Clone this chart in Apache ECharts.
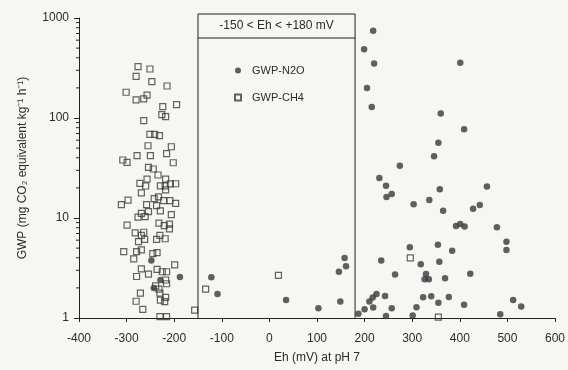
<!DOCTYPE html>
<html>
<head>
<meta charset="utf-8">
<script src="https://cdn.jsdelivr.net/npm/echarts@6/dist/echarts.min.js"></script>
<style>
  html, body { margin: 0; padding: 0; background: #f6f6f4; }
  #chart { width: 568px; height: 370px; }
</style>
</head>
<body>
<div id="chart"></div>
<script>
// ---- data (Eh in mV, GWP in mg CO2 equivalent kg-1 h-1) ----
const ch4Data = [
  [-276,326],[-251,309],[-280,261],[-247,231],[-215,209],[-301,181],[-257,169],[-280,152],[-264,155],[-195,136],
  [-224,130],[-226,108],[-218,103],[-264,94],[-251,68.7],[-241,68.7],[-231,66.5],[-255,52.8],[-206,51.6],[-278,42],
  [-250,42],[-216,44],[-308,38],[-299,36],[-202,35.7],[-254,32.1],[-244,30.9],[-234,26.9],[-257,24.5],[-218,24.5],
  [-272,22.2],[-260,20.9],[-229,21],[-219,21],[-208,21.9],[-197,22],[-218,19.1],[-269,17.8],[-311,13.6],[-297,15.1],
  [-242,15.6],[-233,16.3],[-222,14.9],[-209,14.9],[-197,14.0],[-258,13.6],[-237,13.3],[-229,11.8],[-254,11.6],[-269,11.1],
  [-276,10.2],[-261,10.3],[-206,10.8],[-232,8.9],[-221,8.4],[-210,8.7],[-210,7.8],[-299,8.5],[-282,7.1],[-264,7.2],
  [-269,6.7],[-230,6.7],[-237,6.1],[-219,6.2],[-275,5.8],[-262,6.1],[-306,4.6],[-279,4.6],[-269,4.8],[-245,4.4],
  [-236,4.5],[-285,3.9],[-199,3.4],[-269,3.1],[-236,3.07],[-225,2.9],[-216,2.9],[-279,2.6],[-254,2.75],[-218,2.4],
  [-216,2.2],[-239,2.1],[-232,1.94],[-271,1.77],[-230,1.77],[-218,1.61],[-229,1.51],[-220,1.46],[-280,1.47],[-266,1.22],
  [-230,1.03],[-216,1.03],[-157,1.2],[-134,1.94],[19,2.67],[296,4.0],[355,1.02]
];
const n2oData = [
  [-248,3.76],[-229,2.4],[-243,2.0],[-188,2.57],[-122,2.55],[-109,1.74],[35,1.51],[103,1.25],[146,2.9],[158,3.98],
  [161,3.29],[149,1.46],[187,1.10],[200,1.22],[210,1.46],[217,1.60],[225,1.74],[218,1.27],[243,1.66],[245,1.05],
  [257,1.25],[301,1.06],[309,1.28],[323,1.61],[340,1.65],[355,1.42],[377,1.62],[409,1.36],[512,1.51],[529,1.30],
  [485,1.09],[235,3.76],[318,3.45],[357,3.65],[264,2.72],[329,2.75],[326,2.44],[335,2.44],[369,2.5],[422,2.77],
  [295,5.1],[354,5.4],[384,4.7],[498,5.8],[498,4.8],[392,8.3],[401,8.7],[410,8.2],[478,8.1],[428,12.4],
  [442,13.5],[303,13.7],[336,15.1],[365,11.8],[358,19.4],[457,20.6],[231,25.1],[245,21],[246,16.2],[257,17.4],
  [274,33.3],[346,41.4],[355,56.6],[409,77.1],[360,111],[401,357],[218,747],[199,486],[220,351],[205,200],[215,129]
];
const seriesNames = ['GWP-N2O', 'GWP-CH4'];
const xTicks = [-400, -300, -200, -100, 0, 100, 200, 300, 400, 500, 600];
const yTicks = [1, 10, 100, 1000];
const yMinorTicks = [2,3,4,5,6,7,8,9,20,30,40,50,60,70,80,90,200,300,400,500,600,700,800,900];
const boxRange = [-150, 180];
const boxLabel = '-150 < Eh < +180 mV';
const xTitle = 'Eh (mV) at pH 7';
const yTitle = 'GWP (mg CO\u2082 equivalent kg\u207B\u00B9 h\u207B\u00B9)';

const FONT = '"Liberation Sans", Arial, sans-serif';
const INK = '#2b2b2b';

const chart = echarts.init(document.getElementById('chart'), null, { renderer: 'canvas' });

chart.setOption({
  backgroundColor: '#f6f6f4',
  animation: false,
  textStyle: { fontFamily: FONT, color: INK },
  grid: { left: 79, right: 12, top: 18, bottom: 52, containLabel: false },
  legend: {
    data: seriesNames,
    orient: 'vertical',
    left: 229, top: 60,
    itemWidth: 6, itemHeight: 6, itemGap: 16,
    textStyle: { fontFamily: FONT, fontSize: 11, color: INK, padding: [0, 0, 0, 6] },
    selectedMode: false
  },
  xAxis: {
    type: 'value', min: xTicks[0], max: xTicks[xTicks.length - 1], interval: 100,
    name: xTitle, nameLocation: 'middle', nameGap: 34,
    nameTextStyle: { fontFamily: FONT, fontSize: 12, color: INK },
    axisLine: { onZero: false, lineStyle: { color: '#222', width: 1 } },
    axisTick: { length: 4, lineStyle: { color: '#222' } },
    axisLabel: { fontFamily: FONT, fontSize: 12, color: INK, margin: 15 },
    splitLine: { show: false }
  },
  yAxis: {
    type: 'log', logBase: 10, min: yTicks[0], max: yTicks[yTicks.length - 1],
    name: yTitle, nameLocation: 'middle', nameGap: 50, nameRotate: 90,
    nameTextStyle: { fontFamily: FONT, fontSize: 12, color: INK },
    axisLine: { show: true, onZero: false, lineStyle: { color: '#222', width: 1 } },
    axisTick: { show: true, length: 5, lineStyle: { color: '#222' } },
    axisLabel: { fontFamily: FONT, fontSize: 12, color: INK, margin: 10,
                 formatter: v => String(Math.round(v)) },
    splitLine: { show: false }
  },
  series: [
    {
      name: 'minorTicks', type: 'custom', silent: true, clip: false, z: 1,
      data: yMinorTicks.map(v => [xTicks[0], v]),
      encode: { x: 0, y: 1 },
      renderItem: function (params, api) {
        const p = api.coord([api.value(0), api.value(1)]);
        return {
          type: 'line',
          shape: { x1: p[0] - 3, y1: p[1], x2: p[0], y2: p[1] },
          style: { stroke: '#222', lineWidth: 1 }
        };
      }
    },
    {
      name: seriesNames[1], type: 'scatter', symbol: 'rect', symbolSize: 6,
      itemStyle: { color: 'rgba(0,0,0,0)', borderColor: '#3c3c3c', borderWidth: 1.2 },
      data: ch4Data, z: 3
    },
    {
      name: seriesNames[0], type: 'scatter', symbol: 'circle', symbolSize: 6.5,
      itemStyle: { color: '#3a3a3a' },
      data: n2oData, z: 4
    }
  ]
});

// annotation box: Eh window drawn from the axis scales
const pL = chart.convertToPixel({ xAxisIndex: 0, yAxisIndex: 0 }, [boxRange[0], yTicks[yTicks.length - 1]]);
const pR = chart.convertToPixel({ xAxisIndex: 0, yAxisIndex: 0 }, [boxRange[1], yTicks[0]]);
const boxTop = pL[1] - 4;
const boxHeaderBottom = pL[1] + 20;
const boxLeft = pL[0], boxRight = pR[0], boxBottom = pR[1];
chart.setOption({
  graphic: [
    { type: 'polyline', z: 5, silent: true,
      shape: { points: [[boxLeft, boxBottom], [boxLeft, boxTop], [boxRight, boxTop], [boxRight, boxBottom]] },
      style: { stroke: '#222', lineWidth: 1, fill: null } },
    { type: 'line', z: 5, silent: true,
      shape: { x1: boxLeft, y1: boxHeaderBottom, x2: boxRight, y2: boxHeaderBottom },
      style: { stroke: '#222', lineWidth: 1 } },
    { type: 'text', z: 5, silent: true,
      x: (boxLeft + boxRight) / 2, y: (boxTop + boxHeaderBottom) / 2,
      style: { text: boxLabel, font: '12px ' + FONT, fill: INK, align: 'center', verticalAlign: 'middle' } }
  ]
});
</script>
</body>
</html>
